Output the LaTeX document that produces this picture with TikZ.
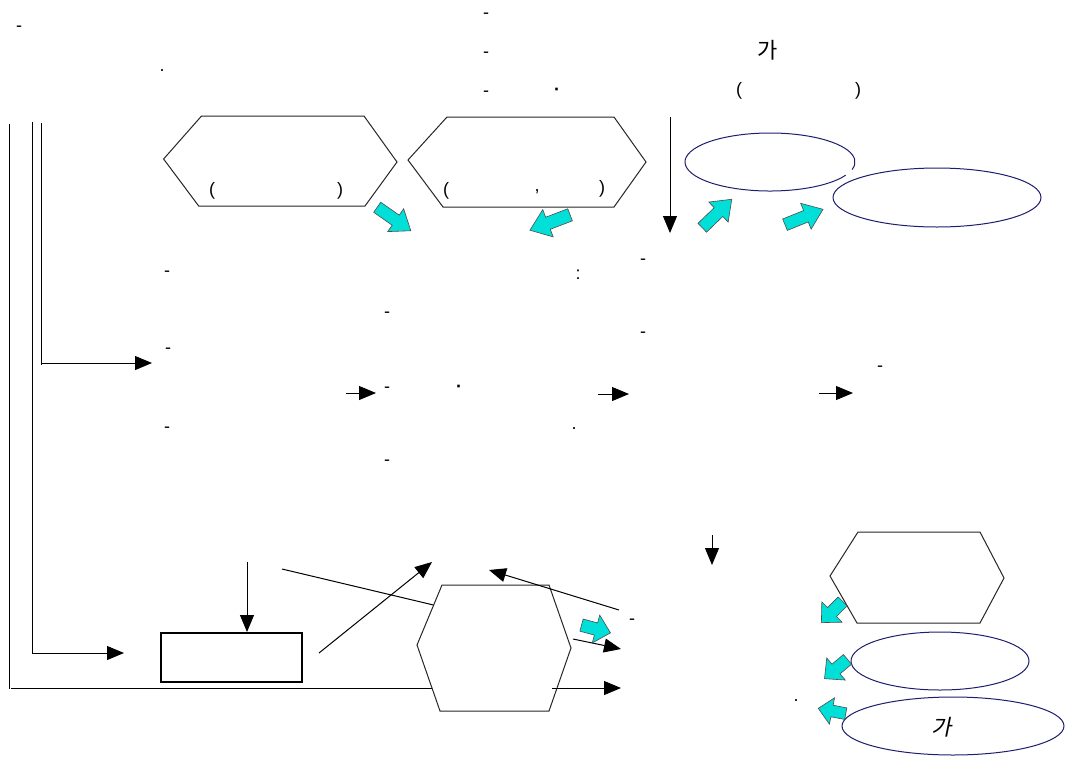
\documentclass[tikz,border=0pt]{standalone}
\usepackage{fontspec}
\setmainfont{Liberation Sans}
\newfontfamily\krfont{Noto Sans CJK KR}
\newfontfamily\kritfont{Noto Sans CJK KR}[FakeSlant=0.2]
\usetikzlibrary{arrows.meta}
\definecolor{cyanA}{RGB}{0,224,216}
\definecolor{navyE}{RGB}{30,30,110}
\begin{document}
\begin{tikzpicture}[x=1pt,y=-1pt,
  txt/.style={inner sep=0pt, anchor=base, font=\fontsize{18}{20}\selectfont},
  krtxt/.style={inner sep=0pt, anchor=base, font=\fontsize{22}{24}\selectfont},
  ln/.style={line width=1pt, draw=black},
  arr/.style={line width=1pt, draw=black, -{Triangle[length=17pt,width=14pt]}},
  hexa/.style={line width=1pt, draw=black!85, fill=white, line join=miter},
  ell/.style={line width=1pt, draw=navyE},
  cyanarrow/.pic={
    \filldraw[fill=cyanA, draw=black!70, line width=0.6pt]
      (-0.5,-0.15) -- (0.05,-0.15) -- (0.05,-0.34) -- (0.5,0) --
      (0.05,0.34) -- (0.05,0.15) -- (-0.5,0.15) -- cycle;
  },
  cyanstub/.pic={
    \filldraw[fill=cyanA, draw=black!70, line width=0.6pt]
      (-0.5,-0.21) -- (0,-0.21) -- (0,-0.48) -- (0.5,0) --
      (0,0.48) -- (0,0.21) -- (-0.5,0.21) -- cycle;
  }
]
\fill[white] (0,0) rectangle (1066,756);
\useasboundingbox (0,0) rectangle (1066,756);

% ---------- left frame lines ----------
\coordinate (L1t) at (9,124);   \coordinate (L1b) at (9,689);
\coordinate (L2t) at (32,122);  \coordinate (L2b) at (32,653);
\coordinate (L3t) at (41,123);  \coordinate (L3b) at (41,365);
\coordinate (L3a) at (41,363);  \coordinate (L3e) at (152,363);
\coordinate (L2e) at (124,653);
\coordinate (L1s) at (11,688);  \coordinate (L1e) at (432,688);
\draw[ln] (L1t) -- (L1b);
\draw[ln] (L2t) -- (L2b);
\draw[ln] (L3t) -- (L3b);
\draw[arr] (L3a) -- (L3e);
\draw[arr] (L2b) -- (L2e);
\draw[ln] (L1s) -- (L1e);

% ---------- top hexagons ----------
\draw[hexa] (163.6,159) -- (201.5,116) -- (364,116) -- (397,162) -- (365,206) -- (198.7,206) -- cycle;
\draw[hexa] (408,160) -- (447,117) -- (614,117) -- (646,162) -- (614,207) -- (443,207) -- cycle;

% vertical arrow
\coordinate (va1) at (670,117); \coordinate (va2) at (670,233);
\draw[arr] (va1) -- (va2);

% top ellipses
\coordinate (e1c) at (770,162);
\draw[ell] ([shift={(27:85 and 29)}]e1c) arc[start angle=27, end angle=375, x radius=85, y radius=29];
\coordinate (e2c) at (937,197.5);
\draw[ell] (e2c) ellipse[x radius=104, y radius=29.5];

% cyan block arrows (top)
\pic[rotate=-35, scale=41] (ca1) at (394,219) {cyanarrow};
\pic[rotate=-159, scale=43] (ca2) at (550,222.5) {cyanarrow};
\pic[rotate=44, scale=41] (ca3) at (717,213.5) {cyanarrow};
\pic[rotate=22, scale=41] (ca4) at (804,217) {cyanarrow};

% ---------- middle row arrows ----------
\coordinate (m1a) at (346,393); \coordinate (m1b) at (376,393);
\coordinate (m2a) at (598,394); \coordinate (m2b) at (629,394);
\coordinate (m3a) at (819,393); \coordinate (m3b) at (853,393);
\draw[arr] (m1a) -- (m1b);
\draw[arr] (m2a) -- (m2b);
\draw[arr] (m3a) -- (m3b);

% ---------- bottom part ----------
\node[draw, line width=2pt, minimum width=141pt, minimum height=49pt, inner sep=0pt] (box) at (231.5,657.5) {};
\coordinate (bd1) at (247,562); \coordinate (bd2) at (247,632);
\draw[arr] (bd1) -- (bd2);
\coordinate (sl1) at (282,569); \coordinate (sl2) at (433.5,605);
\draw[ln] (sl1) -- (sl2);
\coordinate (ua1) at (319,653); \coordinate (ua2) at (432,562);
\draw[arr] (ua1) -- (ua2);

\draw[hexa] (442,585) -- (549,585) -- (571,648) -- (549,711) -- (440,711) -- (417,645) -- cycle;

\coordinate (ba1) at (619,610); \coordinate (ba2) at (489,570);
\draw[arr] (ba1) -- (ba2);
\coordinate (ra1) at (573,639); \coordinate (ra2) at (621,649);
\draw[arr] (ra1) -- (ra2);
\coordinate (rb1) at (552,688); \coordinate (rb2) at (621,688);
\draw[arr] (rb1) -- (rb2);
\coordinate (da1) at (712,535); \coordinate (da2) at (712,565);
\draw[arr] (da1) -- (da2);

\draw[hexa] (858,532) -- (980,532) -- (1004,578) -- (980,623) -- (857,623) -- (830,576) -- cycle;
\coordinate (e3c) at (940,661);
\draw[ell] (e3c) ellipse[x radius=89, y radius=29];
\coordinate (e4c) at (953,726);
\draw[ell] (e4c) ellipse[x radius=111, y radius=29];

% cyan block arrows (bottom)
\pic[rotate=-15, scale=30] (cb1) at (596,629) {cyanstub};
\pic[rotate=-135, scale=30] (cb2) at (832,612) {cyanstub};
\pic[rotate=-140, scale=30] (cb3) at (836,669) {cyanstub};
\pic[rotate=169, scale=28] (cb4) at (832,711) {cyanstub};

% ---------- texts ----------
\node[txt] (t1) at (19,31) {-};
\node[txt] (t2) at (162,71.5) {.};
\node[txt] (t3) at (486,18) {-};
\node[txt] (t4) at (486,57) {-};
\node[txt] (t5) at (486,96) {-};
\node[txt] (t6) at (557,95) {\bfseries ·};
\node[krtxt] (t7) at (768,58) {\krfont 가};
\node[txt] (t8) at (739,95) {(};
\node[txt] (t9) at (858,95) {)};
\node[txt] (t10) at (212,195) {(};
\node[txt] (t11) at (340,195) {)};
\node[txt] (t12) at (446,195) {(};
\node[txt] (t13) at (537,191) {,};
\node[txt] (t14) at (602,193) {)};
\node[txt] (t15) at (167,276) {-};
\node[txt] (t16) at (643,264) {-};
\node[txt] (t17) at (578,279) {:};
\node[txt] (t18) at (387,317) {-};
\node[txt] (t19) at (643,337) {-};
\node[txt] (t20) at (168,353) {-};
\node[txt] (t21) at (880,371) {-};
\node[txt] (t22) at (387,392) {-};
\node[txt] (t23) at (459,392) {\bfseries ·};
\node[txt] (t24) at (167,432) {-};
\node[txt] (t25) at (574,429.5) {.};
\node[txt] (t26) at (387,465) {-};
\node[txt] (t27) at (632,624) {-};
\node[txt] (t28) at (796,701.5) {.};
\node[krtxt] (t29) at (942,735) {\kritfont 가};
\end{tikzpicture}
\end{document}
